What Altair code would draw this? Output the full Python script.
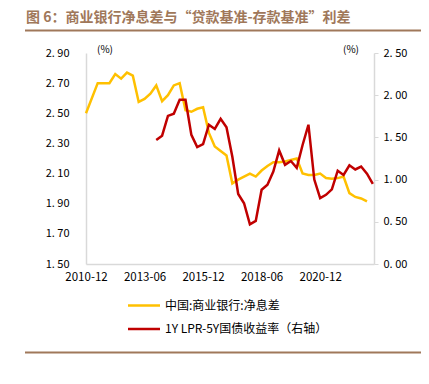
import altair as alt
import pandas as pd

# ---------------- data ----------------
nim_dates = ["2010-12", "2011-06", "2011-12", "2012-03", "2012-06", "2012-09", "2012-12",
             "2013-03", "2013-06", "2013-09", "2013-12", "2014-03", "2014-06", "2014-09", "2014-12",
             "2015-03", "2015-06", "2015-09", "2015-12", "2016-03", "2016-06", "2016-09", "2016-12",
             "2017-03", "2017-06", "2017-09", "2017-12", "2018-03", "2018-06", "2018-09", "2018-12",
             "2019-03", "2019-06", "2019-09", "2019-12", "2020-03", "2020-06", "2020-09", "2020-12",
             "2021-03", "2021-06", "2021-09", "2021-12", "2022-03", "2022-06", "2022-09", "2022-12"]
nim_values = [2.50, 2.70, 2.70, 2.76, 2.73, 2.77, 2.75,
              2.575, 2.595, 2.63, 2.685, 2.58, 2.62, 2.685, 2.70,
              2.52, 2.51, 2.53, 2.54, 2.37, 2.28, 2.25, 2.22,
              2.035, 2.06, 2.08, 2.10, 2.08, 2.12, 2.15, 2.175,
              2.175, 2.18, 2.19, 2.20, 2.10, 2.09, 2.09, 2.10,
              2.07, 2.065, 2.07, 2.08, 1.97, 1.945, 1.935, 1.915]

spread_dates = ["2013-12", "2014-03", "2014-06", "2014-09", "2014-12",
                "2015-03", "2015-06", "2015-09", "2015-12", "2016-03", "2016-06", "2016-09", "2016-12",
                "2017-03", "2017-06", "2017-09", "2017-12", "2018-03", "2018-06", "2018-09", "2018-12",
                "2019-03", "2019-06", "2019-09", "2019-12", "2020-03", "2020-06", "2020-09", "2020-12",
                "2021-03", "2021-06", "2021-09", "2021-12", "2022-03", "2022-06", "2022-09", "2022-12",
                "2023-03"]
spread_values = [1.47, 1.52, 1.755, 1.78, 1.945,
                 1.945, 1.53, 1.385, 1.42, 1.65, 1.60, 1.72, 1.62,
                 1.27, 0.83, 0.72, 0.47, 0.51, 0.88, 0.94, 1.095,
                 1.345, 1.175, 1.22, 1.14, 1.41, 1.65, 1.00, 0.78,
                 0.82, 0.885, 1.105, 1.055, 1.17, 1.12, 1.155, 1.07,
                 0.95]

x_tick_labels = ["2010-12", "2013-06", "2015-12", "2018-06", "2020-12"]
left_ticks = [1.50, 1.70, 1.90, 2.10, 2.30, 2.50, 2.70, 2.90]
right_ticks = [0.00, 0.50, 1.00, 1.50, 2.00, 2.50]

title_text = "图 6：商业银行净息差与“贷款基准-存款基准”利差"
legend_nim = "中国:商业银行:净息差"
legend_spread = "1Y LPR-5Y国债收益率（右轴）"


def q_index(s):
    y, m = map(int, s.split("-"))
    return ((y - 2010) * 12 + (m - 12)) / 3


nim_df = pd.DataFrame({"date": nim_dates, "value": nim_values})
nim_df["q"] = nim_df["date"].map(q_index)
sp_df = pd.DataFrame({"date": spread_dates, "value": spread_values})
sp_df["q"] = sp_df["date"].map(q_index)

tick_idx = [q_index(s) for s in x_tick_labels]
label_expr = ""
for i, s in zip(tick_idx, x_tick_labels):
    label_expr += f"datum.value == {i:g} ? '{s}' : "
label_expr += "''"

FONT = "Noto Sans CJK SC"
YELLOW = "#FFC000"
RED = "#C00000"
BROWN = "#A0785A"
GREY = "#D9D9D9"

W, H = 288, 211

x_enc = alt.X("q:Q", scale=alt.Scale(domain=[0, 49.2], nice=False, zero=False),
              axis=alt.Axis(values=tick_idx, labelExpr=label_expr, title=None, ticks=False,
                            grid=False, domainColor=GREY, domainWidth=1.5, labelPadding=7,
                            labelOverlap=False, labelFlush=False, labelFontSize=11.5,
                            labelColor="#000", labelFont=FONT))

nim_line = alt.Chart(nim_df).mark_line(color=YELLOW, strokeWidth=2.5).encode(
    x=x_enc,
    y=alt.Y("value:Q", scale=alt.Scale(domain=[1.5, 2.9], nice=False, zero=False),
            axis=alt.Axis(orient="left", values=left_ticks, title=None, ticks=False, grid=False,
                          domainColor=GREY, domainWidth=1.5, labelPadding=17, labelOverlap=False,
                          labelFlush=False,
                          labelExpr="replace(format(datum.value, '.2f'), '.', '. ')",
                          labelFontSize=11, labelColor="#000", labelFont=FONT)),
)

sp_line = alt.Chart(sp_df).mark_line(color=RED, strokeWidth=2.5).encode(
    x=x_enc,
    y=alt.Y("value:Q", scale=alt.Scale(domain=[0, 2.5], nice=False, zero=False),
            axis=alt.Axis(orient="right", values=right_ticks, title=None, ticks=True, tickSize=4,
                          tickColor=GREY, grid=False, domainColor=GREY, domainWidth=1.5,
                          labelPadding=5, labelOverlap=False, labelFlush=False,
                          labelExpr="replace(format(datum.value, '.2f'), '.', '. ')",
                          labelFontSize=11, labelColor="#000", labelFont=FONT)),
)

one = alt.Data(values=[{}])


def text(t, x, y, size=11, color="#000", weight="normal", align="left", baseline="middle"):
    return alt.Chart(one).mark_text(text=t, fontSize=size, color=color, fontWeight=weight,
                                    align=align, baseline=baseline, font=FONT).encode(
        x=alt.value(x), y=alt.value(y))


def rule(x1, x2, y, color, width):
    return alt.Chart(one).mark_rule(color=color, strokeWidth=width).encode(
        x=alt.value(x1), x2=alt.value(x2), y=alt.value(y))


annotations = [
    text(title_text, -60, -35, size=14, color=BROWN, weight="bold"),
    rule(-61, 345, -22.5, BROWN, 2),
    text("(%)", 11, -3, size=10),
    text("(%)", 257, -3, size=10),
    rule(42, 74, 252.5, YELLOW, 2.5),
    text(legend_nim, 79, 252.5, size=12),
    rule(42, 74, 276, RED, 2.5),
    text(legend_spread, 79, 276, size=12),
    rule(-61, 345, 299.5, BROWN, 2),
]

chart = alt.layer(nim_line, sp_line, *annotations).resolve_scale(y="independent").properties(
    width=W, height=H,
    autosize=alt.AutoSizeParams(type="none"),
    padding={"left": 78, "top": 45, "right": 47, "bottom": 112},
).configure_view(stroke=None)

chart.save("out.html", embed_options={"renderer": "svg", "actions": False})
